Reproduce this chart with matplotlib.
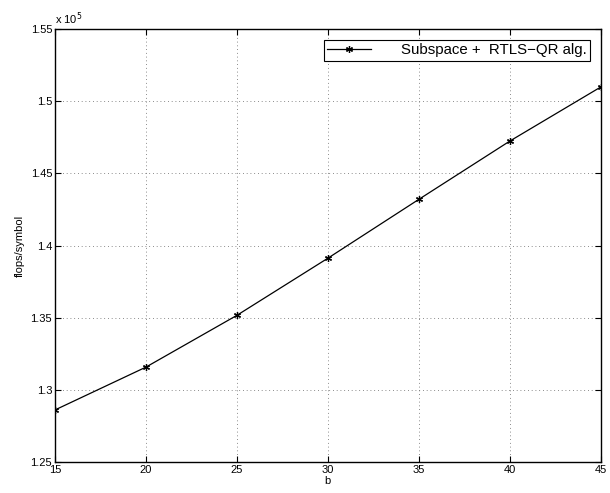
import numpy as np
import matplotlib.pyplot as plt
from matplotlib.ticker import FuncFormatter

# flops per symbol versus block length b
b = [15, 20, 25, 30, 35, 40, 45]
flops = [128600, 131570, 135160, 139120, 143200, 147240, 150990]
series_label = "Subspace +  RTLS\u2212QR alg."

plt.rcParams['font.family'] = ['Liberation Sans', 'DejaVu Sans']

fig = plt.figure(figsize=(6.10, 4.93), dpi=100)
ax = fig.add_axes([0.090, 0.063, 0.895, 0.878])

ax.plot(b, flops, color='black', linewidth=0.9, marker=(6, 2, 0),
        markersize=5, markeredgewidth=0.9, label=series_label)

ax.set_xlim(15, 45)
ax.set_ylim(125000, 155000)
ax.set_xticks(b)
ax.set_yticks(np.arange(125000, 155001, 5000))
ax.yaxis.set_major_formatter(FuncFormatter(lambda v, p: '%g' % round(v / 1e5, 2)))
ax.text(0.0, 1.005, r'x 10$^5$', transform=ax.transAxes, fontsize=8,
        ha='left', va='bottom')

ax.grid(True, linestyle=(0, (1, 3.5)), color='#666666', linewidth=0.6)
ax.tick_params(direction='in', top=True, right=True, labelsize=8,
               length=4, width=0.8, pad=2)
for s in ax.spines.values():
    s.set_linewidth(1.0)

ax.set_xlabel('b', fontsize=8, labelpad=1)
ax.set_ylabel('flops/symbol', fontsize=8, labelpad=4)

leg = ax.legend(loc='upper right', fontsize=10.8, handlelength=2.9,
                handletextpad=2.0, fancybox=False, framealpha=1,
                edgecolor='black', borderaxespad=0.7, borderpad=0.25)
leg.get_frame().set_linewidth(0.8)

fig.savefig('out.png', dpi=100)
